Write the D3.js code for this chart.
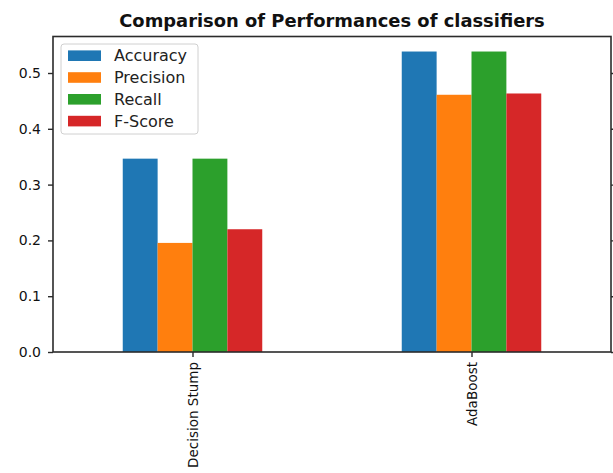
<!DOCTYPE html>
<html>
<head>
<meta charset="utf-8">
<script src="https://cdnjs.cloudflare.com/ajax/libs/d3/7.8.5/d3.min.js"></script>
<style>
  html, body { margin: 0; padding: 0; background: #fff; }
  svg { display: block; }
  text { font-family: "DejaVu Sans", sans-serif; }
</style>
</head>
<body>
<svg id="chart" width="613" height="473"></svg>
<script>
const title = "Comparison of Performances of classifiers";
const categories = ["Decision Stump", "AdaBoost"];
const seriesNames = ["Accuracy", "Precision", "Recall", "F-Score"];
const accuracy  = [0.3465, 0.5385];
const precision = [0.1955, 0.4610];
const recall    = [0.3465, 0.5385];
const fscore    = [0.2200, 0.4633];
const yTicks = [0.0, 0.1, 0.2, 0.3, 0.4, 0.5];
const colors = ["#1f77b4", "#ff7f0e", "#2ca02c", "#d62728"];

const seriesValues = [accuracy, precision, recall, fscore];

const svg = d3.select("#chart");
const W = 613, H = 473;
const m = { left: 53, right: 2, top: 36.5, bottom: 121 };
const x0 = m.left, x1 = W - m.right, yTop = m.top, yBot = H - m.bottom;

const maxVal = d3.max(seriesValues.flat());
const x = d3.scaleLinear().domain([-0.5, categories.length - 0.5]).range([x0, x1]);
const y = d3.scaleLinear().domain([0, maxVal * 1.05]).range([yBot, yTop]);

const totalW = 0.5;
const bw = totalW / seriesNames.length;

// bars
const g = svg.append("g");
seriesNames.forEach((s, si) => {
  g.selectAll(".bar" + si)
    .data(seriesValues[si])
    .enter().append("rect")
    .attr("x", (d, i) => x(i - totalW / 2 + si * bw))
    .attr("width", x(bw) - x(0))
    .attr("y", d => y(d))
    .attr("height", d => y(0) - y(d))
    .attr("fill", colors[si]);
});

const axisColor = "#2b2b2b";

// y axis
const yAxis = d3.axisLeft(y).tickValues(yTicks).tickFormat(d3.format(".1f")).tickSize(5).tickPadding(7);
const ya = svg.append("g").attr("transform", `translate(${x0},0)`).call(yAxis);
ya.select(".domain").remove();
ya.selectAll("line").attr("stroke", axisColor).attr("stroke-width", 1.4);
ya.selectAll("text").attr("font-size", 14).attr("fill", "#111");

// small mirrored ticks on right spine
const yr = d3.axisRight(y).tickValues(yTicks).tickFormat("").tickSize(2);
const yra = svg.append("g").attr("transform", `translate(${x1},0)`).call(yr);
yra.select(".domain").remove();
yra.selectAll("line").attr("stroke", axisColor).attr("stroke-width", 1.4);

// x axis
const xAxis = d3.axisBottom(x).tickValues(categories.map((c, i) => i))
  .tickFormat((d) => categories[d]).tickSize(5).tickPadding(5);
const xa = svg.append("g").attr("transform", `translate(0,${yBot})`).call(xAxis);
xa.select(".domain").remove();
xa.selectAll("line").attr("stroke", axisColor).attr("stroke-width", 1.4);
xa.selectAll("text")
  .attr("font-size", 13.5).attr("fill", "#111")
  .attr("text-anchor", "end")
  .attr("transform", "rotate(-90)")
  .attr("x", -10).attr("y", 0).attr("dy", "0.35em");

// frame
svg.append("rect")
  .attr("x", x0).attr("y", yTop).attr("width", x1 - x0).attr("height", yBot - yTop)
  .attr("fill", "none").attr("stroke", axisColor).attr("stroke-width", 1.6);

// title
svg.append("text")
  .attr("x", (x0 + x1) / 2).attr("y", 27)
  .attr("text-anchor", "middle")
  .attr("font-size", 17.9).attr("font-weight", "bold").attr("fill", "#111")
  .text(title);

// legend
const lg = svg.append("g");
lg.append("rect")
  .attr("x", 61).attr("y", 44).attr("width", 137).attr("height", 90)
  .attr("rx", 3).attr("fill", "#fff").attr("fill-opacity", 0.8)
  .attr("stroke", "#d0d0d0").attr("stroke-width", 1);
seriesNames.forEach((s, i) => {
  const cy = 55.7 + i * 21.8;
  lg.append("rect").attr("x", 68).attr("y", cy - 5.3).attr("width", 33).attr("height", 10.6).attr("fill", colors[i]);
  lg.append("text").attr("x", 114).attr("y", cy).attr("dy", "0.35em")
    .attr("font-size", 16).attr("fill", "#222").text(s);
});
</script>
</body>
</html>
